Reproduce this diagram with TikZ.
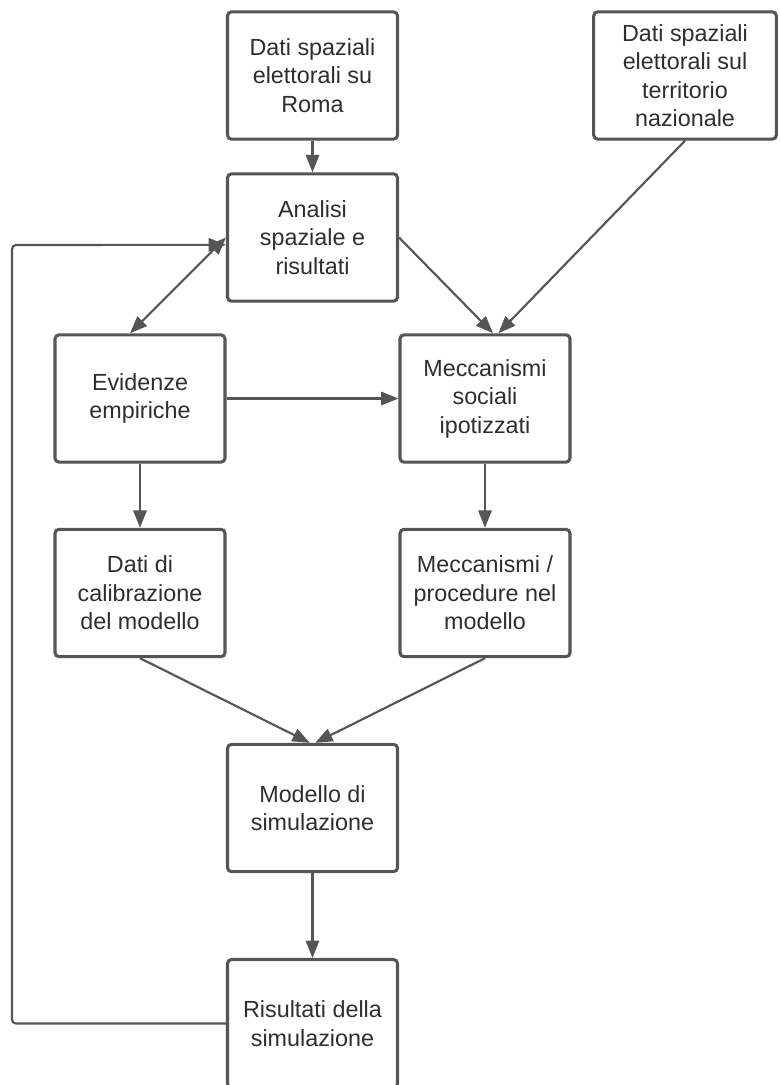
\documentclass[tikz,border=0pt]{standalone}
\usepackage{fontspec}
\setmainfont{Liberation Sans}
\usepackage{tikz}
\usetikzlibrary{calc,positioning,arrows.meta}
\definecolor{linegray}{HTML}{555555}
\definecolor{textgray}{HTML}{2E2E2E}
\tikzstyle{blocco} = [rectangle, rounded corners=3pt, draw=linegray, line width=2.3pt,
                      minimum width=127.5pt, minimum height=95.5pt, align=center,
                      text=textgray, font=\fontsize{17.5pt}{21.4pt}\selectfont]
\tikzstyle{arrow}  = [draw=linegray, line width=1.6pt, -{Triangle[length=13pt,width=10pt]}]
\tikzstyle{arrowboth} = [draw=linegray, line width=1.6pt, {Triangle[length=13pt,width=10pt]}-{Triangle[length=13pt,width=10pt]}]

\begin{document}
\begin{tikzpicture}[x=0.75pt,y=-0.75pt]
		\useasboundingbox (0,0) rectangle (779,1085);

		% riga superiore
		\node[blocco] (roma) at (312.5,75.5) {Dati spaziali\\elettorali su\\Roma};
		\node[blocco, minimum width=137pt] (nazionale) at (685,75.5) {Dati spaziali\\elettorali sul\\territorio\\nazionale};
		\node[blocco] (analisi) at (312.5,237.5) {Analisi\\spaziale e\\risultati};

		% colonne
		\node[blocco] (evidenze) at (140,398.5) {Evidenze\\empiriche};
		\node[blocco] (meccanismi) at (485,398.5) {Meccanismi\\sociali\\ipotizzati};
		\node[blocco] (calibrazione) at (140,593) {Dati di\\calibrazione\\del modello};
		\node[blocco] (procedure) at (485,593) {Meccanismi /\\procedure nel\\modello};

		% simulazione
		\node[blocco] (modello) at (312.5,808) {Modello di\\simulazione};
		\node[blocco, minimum height=96pt] (risultati) at (312.5,1023.5) {Risultati della\\simulazione};
		\coordinate (ritorno) at (12,245);

		\draw[arrow] (roma.south) -- (analisi.north);
		\draw[arrowboth] (analisi.west) -- ([xshift=-7.5pt]evidenze.north);
		\draw[arrow] (analisi.east) -- ([xshift=6pt]meccanismi.north);
		\draw[arrow] (nazionale.south) -- ([xshift=10pt]meccanismi.north);
		\draw[arrow] (evidenze.east) -- (meccanismi.west);
		\draw[arrow] (evidenze.south) -- (calibrazione.north);
		\draw[arrow] (meccanismi.south) -- (procedure.north);
		\draw[arrow] (calibrazione.south) -- ([xshift=-2pt]modello.north);
		\draw[arrow] (procedure.south) -- ([xshift=2pt]modello.north);
		\draw[arrow] (modello.south) -- (risultati.north);
		\draw[arrow, rounded corners=3pt] (risultati.west) -| (ritorno) -- ([yshift=-5.5pt]analisi.west);
	\end{tikzpicture}
\end{document}
